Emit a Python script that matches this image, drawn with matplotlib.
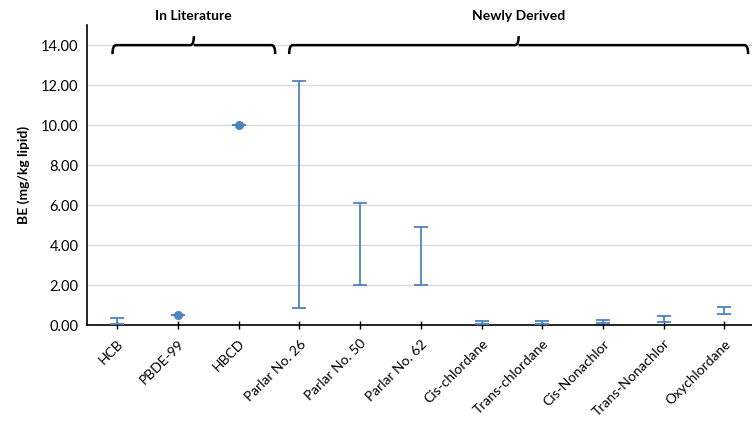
import matplotlib.pyplot as plt
from matplotlib.path import Path
from matplotlib.patches import PathPatch

plt.rcParams['font.family'] = ['Lato', 'DejaVu Sans']

compounds = ['HCB', 'PBDE-99', 'HBCD', 'Parlar No. 26', 'Parlar No. 50',
             'Parlar No. 62', 'Cis-chlordane', 'Trans-chlordane',
             'Cis-Nonachlor', 'Trans-Nonachlor', 'Oxychlordane']
# lower / upper ends of each BE range (mg/kg lipid)
be_low = [0.03, 0.5, 10.0, 0.87, 2.02, 2.02, 0.03, 0.03, 0.08, 0.13, 0.56]
be_high = [0.33, 0.5, 10.0, 12.2, 6.1, 4.88, 0.20, 0.20, 0.25, 0.45, 0.90]
# single literature values drawn as points
point_idx = [1, 2]
yticks = [0, 2, 4, 6, 8, 10, 12, 14]

groups = [('In Literature', -0.08, 2.6), ('Newly Derived', 2.83, 10.39)]

blue = '#4f82c0'

fig = plt.figure(figsize=(7.52, 4.26), dpi=100)
ax = fig.add_axes([0.1157, 0.237, 0.884, 0.704])

x = list(range(len(compounds)))
mid = [(lo + hi) / 2 for lo, hi in zip(be_low, be_high)]
err = [[m - lo for m, lo in zip(mid, be_low)],
       [hi - m for hi, m in zip(be_high, mid)]]
ax.errorbar(x, mid, yerr=err, fmt='none', ecolor=blue, elinewidth=1.3,
            capsize=5, capthick=1.3, zorder=3)
ax.plot([x[i] for i in point_idx], [be_low[i] for i in point_idx], 'o',
        color=blue, markersize=5.5, zorder=4)

ax.set_xlim(-0.5, 10.45)
ax.set_ylim(0, 15)
ax.set_yticks(yticks)
ax.set_yticklabels(['%.2f' % v for v in yticks], fontsize=10.5)
ax.set_xticks(x)
ax.set_xticklabels(compounds, rotation=45, ha='right', rotation_mode='anchor',
                   fontsize=10)
ax.tick_params(axis='y', length=0, pad=6)
ax.tick_params(axis='x', direction='inout', length=6, width=1, pad=6)
ax.grid(axis='y', color='#d9d9d9', linewidth=1)
ax.set_axisbelow(True)
for s in ['top', 'right']:
    ax.spines[s].set_visible(False)
for s in ['left', 'bottom']:
    ax.spines[s].set_linewidth(1.2)
ax.set_ylabel('BE (mg/kg lipid)', fontsize=10, fontweight='bold', labelpad=8)


def brace(ax, x0, x1, y, drop, tip):
    # curly brace drawn across the top, tip pointing up
    xm = (x0 + x1) / 2
    r = 0.06
    verts = [(x0, y - drop), (x0, y), (x0 + r, y),
             (xm - r, y), (xm, y), (xm, y + tip),
             (xm, y), (xm + r, y),
             (x1 - r, y), (x1, y), (x1, y - drop)]
    codes = [Path.MOVETO, Path.CURVE3, Path.CURVE3,
             Path.LINETO, Path.CURVE3, Path.CURVE3,
             Path.MOVETO, Path.LINETO,
             Path.LINETO, Path.CURVE3, Path.CURVE3]
    ax.add_patch(PathPatch(Path(verts, codes), fill=False, lw=1.8,
                           color='black', clip_on=False, zorder=5))
    return xm


for label, x0, x1 in groups:
    xm = brace(ax, x0, x1, 14.0, 0.45, 0.45)
    ax.text(xm, 15.45, label, ha='center', va='center', fontsize=10,
            fontweight='bold', clip_on=False)

fig.savefig('out.png', dpi=100)
